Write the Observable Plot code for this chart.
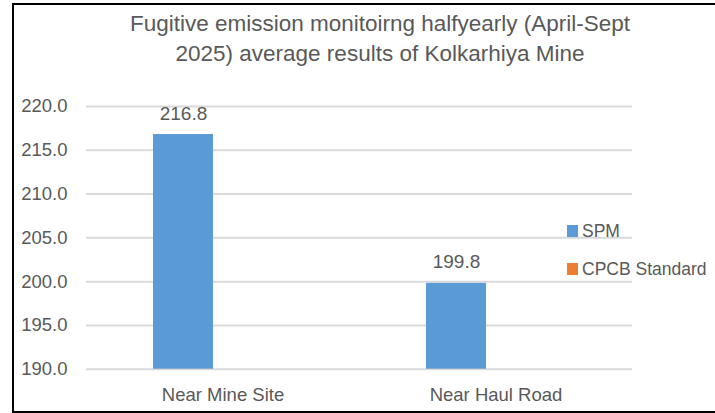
<!DOCTYPE html>
<html><head><meta charset="utf-8">
<script src="https://cdn.jsdelivr.net/npm/d3@7"></script>
<script src="https://cdn.jsdelivr.net/npm/@observablehq/plot@0.6"></script>
<style>
body{margin:0;width:715px;height:413px;overflow:hidden;position:relative;background:#fff;font-family:"Liberation Sans",Arial,sans-serif;}
#frame{position:absolute;left:12px;top:3px;width:760px;height:406px;border:2px solid #000;}
#title{position:absolute;left:12px;width:736px;top:9px;text-align:center;font-size:22.5px;line-height:30px;color:#595959;white-space:nowrap;}
#chart{position:absolute;left:0;top:0;}
.item{position:absolute;left:567px;height:20px;line-height:20px;display:flex;align-items:center;font-size:17.5px;color:#595959;white-space:nowrap;}
.sw{width:11px;height:12px;margin-right:4px;flex:none;}
</style></head>
<body>
<div id="frame"></div>
<div id="title">Fugitive emission monitoirng halfyearly (April-Sept<br>2025) average results of Kolkarhiya Mine</div>
<div id="chart"></div>
<div id="legend"></div>
<script>
const categories = ["Near Mine Site", "Near Haul Road"];
const seriesNames = ["SPM", "CPCB Standard"];
const seriesColors = ["#5B9BD5", "#ED7D31"];
const spmValues = [216.8, 199.8];
const cpcbValues = [null, null];
const yTicks = [190, 195, 200, 205, 210, 215, 220];
const yDomain = [190, 220];

const data = [];
categories.forEach((c, i) => {
  data.push({category: c, series: seriesNames[0], value: spmValues[i]});
  data.push({category: c, series: seriesNames[1], value: cpcbValues[i]});
});
const shown = data.filter(d => d.value != null);

const chart = Plot.plot({
  width: 715, height: 413,
  marginTop: 106, marginBottom: 44.3, marginLeft: 86, marginRight: 83,
  style: {fontFamily: '"Liberation Sans", Arial, sans-serif', background: "transparent", overflow: "visible"},
  fx: {domain: categories, paddingInner: 0, paddingOuter: 0, label: null},
  x: {domain: seriesNames, paddingInner: 0.24, paddingOuter: 0.848, axis: null, round: false},
  y: {domain: yDomain},
  color: {domain: seriesNames, range: seriesColors},
  marks: [
    Plot.gridY(yTicks, {stroke: "#d9d9d9", strokeOpacity: 1, strokeWidth: 2}),
    Plot.barY(shown, {fx: "category", x: "series", y1: yDomain[0], y2: "value", fill: "series"}),
    Plot.text(shown, {fx: "category", x: "series", y: "value", text: d => d.value.toFixed(1), dy: -21, fontSize: 19, fill: "#595959"}),
    Plot.axisY(yTicks, {tickFormat: d3.format(".1f"), tickSize: 0, tickPadding: 19, fontSize: 18.5, fill: "#595959", label: null}),
    Plot.axisFx({anchor: "bottom", tickSize: 0, tickPadding: 19, fontSize: 18.5, fill: "#595959", label: null})
  ]
});
document.getElementById("chart").appendChild(chart);

const legendTops = [221, 259];
const legend = document.getElementById("legend");
seriesNames.forEach((s, i) => {
  const it = document.createElement("div");
  it.className = "item";
  it.style.top = legendTops[i] + "px";
  const sw = document.createElement("span");
  sw.className = "sw";
  sw.style.background = seriesColors[i];
  it.appendChild(sw);
  it.appendChild(document.createTextNode(s));
  legend.appendChild(it);
});
</script>
</body></html>
